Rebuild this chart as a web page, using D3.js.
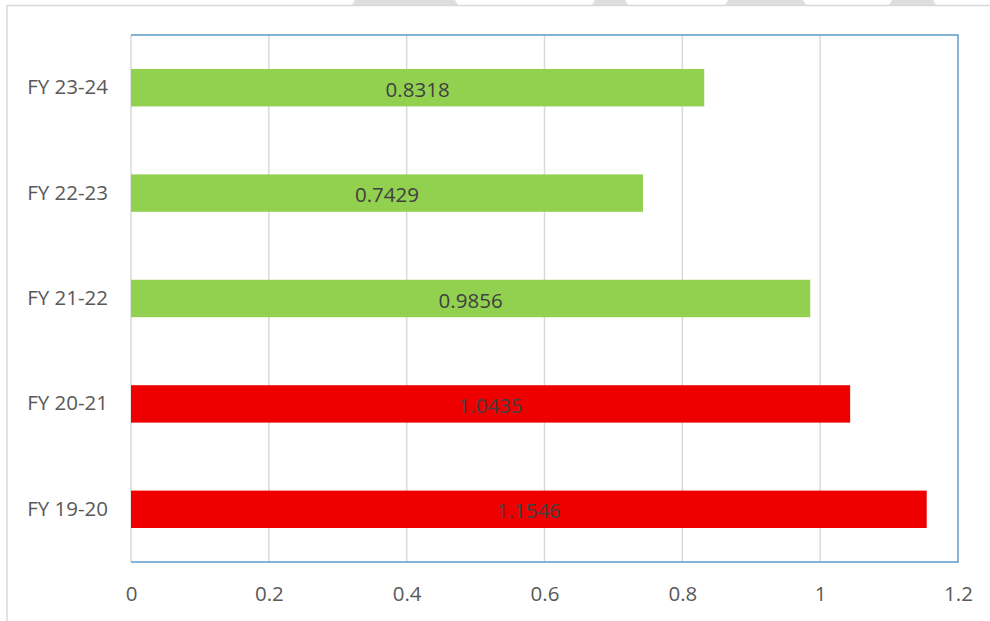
<!DOCTYPE html>
<html lang='en'>
<head>
    <meta charset='UTF-8'/>
    <title>FY bar chart</title>
    <script src="https://cdn.jsdelivr.net/npm/d3@7"></script>
    <style>
        html, body {
            margin: 0;
            background: white;
        }

        svg text {
            font-family: "Open Sans", sans-serif;
        }
    </style>
</head>
<body>
<div id="container"></div>

<script>
    // values
    const years = ['FY 23-24', 'FY 22-23', 'FY 21-22', 'FY 20-21', 'FY 19-20']
    const values = [0.8318, 0.7429, 0.9856, 1.0435, 1.1546]
    const barColors = ['#92d050', '#92d050', '#92d050', '#ee0000', '#ee0000']
    const xTicks = [0, 0.2, 0.4, 0.6, 0.8, 1, 1.2]

    const width = 990
    const height = 621
    const plot = {left: 131, right: 958, top: 35, bottom: 562}

    const svg = d3.select('#container')
        .append('svg')
        .attr('width', width)
        .attr('height', height)

    // faint tabs peeking in at the top edge and the outer frame
    const tabs = [[352, 458], [592, 628], [725, 806], [889, 936]]
    svg.selectAll('polygon.tab')
        .data(tabs)
        .join('polygon')
        .attr('class', 'tab')
        .attr('points', t => `${t[0] + 3},0 ${t[1] - 3},0 ${t[1]},5 ${t[0]},5`)
        .attr('fill', '#dedede')

    svg.append('path')
        .attr('d', `M7,${height} V5.5 H${width}`)
        .attr('fill', 'none')
        .attr('stroke', '#d9d9d9')
        .attr('stroke-width', 1.5)

    const x = d3.scaleLinear()
        .domain([0, 1.2])
        .range([plot.left, plot.right])

    const y = d3.scaleBand()
        .domain(years)
        .range([plot.top, plot.bottom])
        .paddingInner(0.645)
        .paddingOuter(0.3225)

    // vertical gridlines
    svg.append('g')
        .selectAll('line')
        .data(xTicks)
        .join('line')
        .attr('x1', d => x(d))
        .attr('x2', d => x(d))
        .attr('y1', plot.top)
        .attr('y2', plot.bottom)
        .attr('stroke', '#d9d9d9')
        .attr('stroke-width', 1.5)

    // plot border (top, right, bottom)
    svg.append('path')
        .attr('d', `M${plot.left},${plot.top} H${plot.right} V${plot.bottom} H${plot.left}`)
        .attr('fill', 'none')
        .attr('stroke', '#5b9bc8')
        .attr('stroke-width', 1.3)

    const rows = years.map((year, i) => ({year, value: values[i], color: barColors[i]}))

    svg.append('g')
        .selectAll('rect')
        .data(rows)
        .join('rect')
        .attr('x', x(0))
        .attr('y', d => y(d.year))
        .attr('width', d => x(d.value) - x(0))
        .attr('height', y.bandwidth())
        .attr('fill', d => d.color)

    svg.append('g')
        .selectAll('text')
        .data(rows)
        .join('text')
        .attr('x', d => (x(0) + x(d.value)) / 2)
        .attr('y', d => y(d.year) + y.bandwidth() / 2 + 1)
        .attr('text-anchor', 'middle')
        .attr('dominant-baseline', 'central')
        .attr('font-size', '20.5px')
        .attr('fill', '#404040')
        .text(d => d.value)

    // x axis labels
    const xAxis = d3.axisBottom(x)
        .tickValues(xTicks)
        .tickSize(0)
        .tickPadding(0)
        .tickFormat(d => d)

    svg.append('g')
        .attr('transform', `translate(0,${plot.bottom})`)
        .call(xAxis)
        .call(g => g.select('.domain').remove())
        .selectAll('text')
        .attr('dy', null)
        .attr('y', 39)
        .attr('font-size', '20.5px')
        .attr('fill', '#595959')

    // y axis labels
    const yAxis = d3.axisLeft(y)
        .tickSize(0)
        .tickPadding(23)

    svg.append('g')
        .attr('transform', `translate(${plot.left},0)`)
        .call(yAxis)
        .call(g => g.select('.domain').remove())
        .selectAll('text')
        .attr('font-size', '20.5px')
        .attr('fill', '#595959')
</script>
</body>
</html>
